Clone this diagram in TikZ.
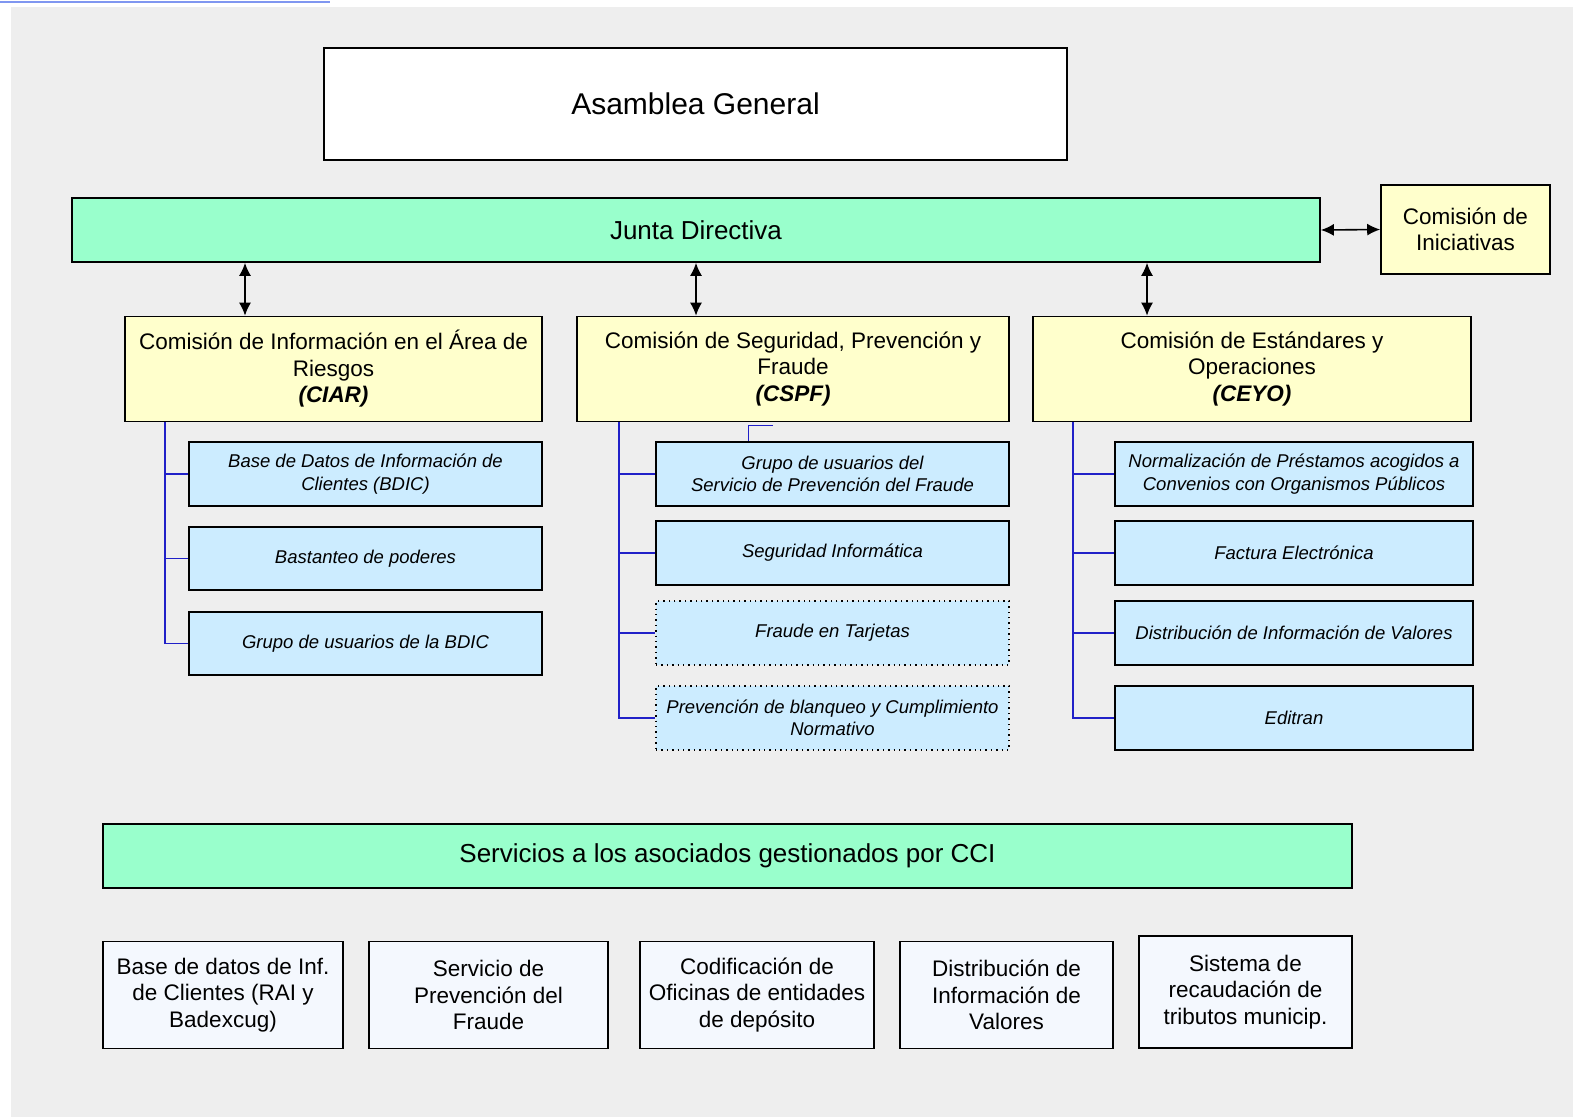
\documentclass[tikz,border=0pt]{standalone}
\usepackage{fontspec}
\setmainfont{Liberation Sans}
\usetikzlibrary{arrows.meta}

\definecolor{fondo}{HTML}{EEEEEE}
\definecolor{menta}{HTML}{99FFCC}
\definecolor{crema}{HTML}{FFFFCC}
\definecolor{celeste}{HTML}{CCECFF}
\definecolor{blancoaz}{HTML}{F4F8FE}
\definecolor{ramaazul}{HTML}{2020C8}
\definecolor{rayita}{HTML}{7F96F0}

\begin{document}
\begin{tikzpicture}[x=1pt, y=-1pt,
    caja/.style={draw=black, line width=1.6pt, inner sep=2pt, align=center,
                 font=\fontsize{22.5}{26.5}\selectfont},
    comision/.style={caja, fill=crema},
    banda/.style={caja, fill=menta, font=\fontsize{26}{30}\selectfont},
    grupo/.style={caja, fill=celeste, font=\fontsize{18.5}{22.5}\selectfont\itshape},
    grupopunto/.style={grupo, dash pattern=on 1.4pt off 4pt, line width=1.4pt},
    servicio/.style={caja, fill=blancoaz},
    flecha/.style={{Latex[length=13pt,width=12pt]}-{Latex[length=13pt,width=12pt]}, line width=1.6pt},
    rama/.style={draw=ramaazul, line width=1.2pt}]

  \useasboundingbox (0,0) rectangle (1573,1117);
  \fill[fondo] (11,7) rectangle (1573,1117);
  \draw[rayita, line width=1.5pt] (0,2) -- (330,2);

  % cabecera
  \node[caja, fill=white, minimum width=743, minimum height=112,
        font=\fontsize{30}{34}\selectfont] (asamblea) at (695.5,104) {Asamblea General};
  \node[banda, minimum width=1248, minimum height=64] (junta) at (696,230) {Junta Directiva};
  \node[comision, minimum width=169, minimum height=89] (inic) at (1465.5,229.5) {Comisión de\\Iniciativas};

  % comisiones
  \node[comision, minimum width=417, minimum height=105] (ciar) at (333.5,369)
       {Comisión de Información en el Área de\\Riesgos\\\textbf{\textit{(CIAR)}}};
  \node[comision, minimum width=432, minimum height=105] (cspf) at (793,369)
       {Comisión de Seguridad, Prevención y\\Fraude\\\textbf{\textit{(CSPF)}}};
  \node[comision, minimum width=438, minimum height=105] (ceyo) at (1252,369)
       {Comisión de Estándares y\\Operaciones\\\textbf{\textit{(CEYO)}}};

  % grupos CIAR
  \node[grupo, minimum width=353, minimum height=64] (k11) at (365.5,474)
       {Base de Datos de Información de\\Clientes (BDIC)};
  \node[grupo, minimum width=353, minimum height=63] (k12) at (365.5,558.5) {Bastanteo de poderes};
  \node[grupo, minimum width=353, minimum height=63] (k13) at (365.5,643.5) {Grupo de usuarios de la BDIC};

  % grupos CSPF
  \node[grupo, minimum width=353, minimum height=64] (k21) at (832.5,474)
       {Grupo de usuarios del\\Servicio de Prevención del Fraude};
  \node[grupo, minimum width=353, minimum height=64] (k22) at (832.5,553) {Seguridad Informática};
  \node[grupopunto, minimum width=353, minimum height=64] (k23) at (832.5,633) {Fraude en Tarjetas};
  \node[grupopunto, minimum width=353, minimum height=64] (k24) at (832.5,718)
       {Prevención de blanqueo y Cumplimiento\\Normativo};

  % grupos CEYO
  \node[grupo, minimum width=358, minimum height=64] (k31) at (1294,474)
       {Normalización de Préstamos acogidos a\\Convenios con Organismos Públicos};
  \node[grupo, minimum width=358, minimum height=64] (k32) at (1294,553) {Factura Electrónica};
  \node[grupo, minimum width=358, minimum height=64] (k33) at (1294,633) {Distribución de Información de Valores};
  \node[grupo, minimum width=358, minimum height=64] (k34) at (1294,718) {Editran};

  % servicios
  \node[banda, minimum width=1249, minimum height=64] (serv) at (727.5,856)
       {Servicios a los asociados gestionados por CCI};
  \node[servicio, minimum width=240, minimum height=107] (s1) at (223,995)
       {Base de datos de Inf.\\de Clientes (RAI y\\Badexcug)};
  \node[servicio, minimum width=239, minimum height=107] (s2) at (488.5,995)
       {Servicio de\\Prevención del\\Fraude};
  \node[servicio, minimum width=234, minimum height=107] (s3) at (757,995)
       {Codificación de\\Oficinas de entidades\\de depósito};
  \node[servicio, minimum width=213, minimum height=107] (s4) at (1006.5,995)
       {Distribución de\\Información de\\Valores};
  \node[servicio, minimum width=213, minimum height=112] (s5) at (1245.5,992)
       {Sistema de\\recaudación de\\tributos municip.};

  % flechas
  \coordinate (a1) at (245,0);
  \coordinate (a3) at (1147,0);
  \draw[flecha] (junta.east) -- (inic.west);
  \draw[flecha] (junta.south -| a1) -- (ciar.north -| a1);
  \draw[flecha] (junta.south) -- (cspf.north -| junta.south);
  \draw[flecha] (junta.south -| a3) -- (ceyo.north -| a3);

  % ramas
  \coordinate (t1) at (165,0);
  \coordinate (t2) at (619,0);
  \coordinate (t3) at (1073,0);
  \draw[rama] (ciar.south -| t1) |- (k13.west);
  \draw[rama] (t1 |- k11.west) -- (k11.west);
  \draw[rama] (t1 |- k12.west) -- (k12.west);
  \draw[rama] (cspf.south -| t2) |- (k24.west);
  \draw[rama] (t2 |- k21.west) -- (k21.west);
  \draw[rama] (t2 |- k22.west) -- (k22.west);
  \draw[rama] (t2 |- k23.west) -- (k23.west);
  \draw[rama, line width=0.8pt] ([xshift=-84.5pt]k21.north) |- ++(25,-16);
  \draw[rama] (ceyo.south -| t3) |- (k34.west);
  \draw[rama] (t3 |- k31.west) -- (k31.west);
  \draw[rama] (t3 |- k32.west) -- (k32.west);
  \draw[rama] (t3 |- k33.west) -- (k33.west);
\end{tikzpicture}
\end{document}
